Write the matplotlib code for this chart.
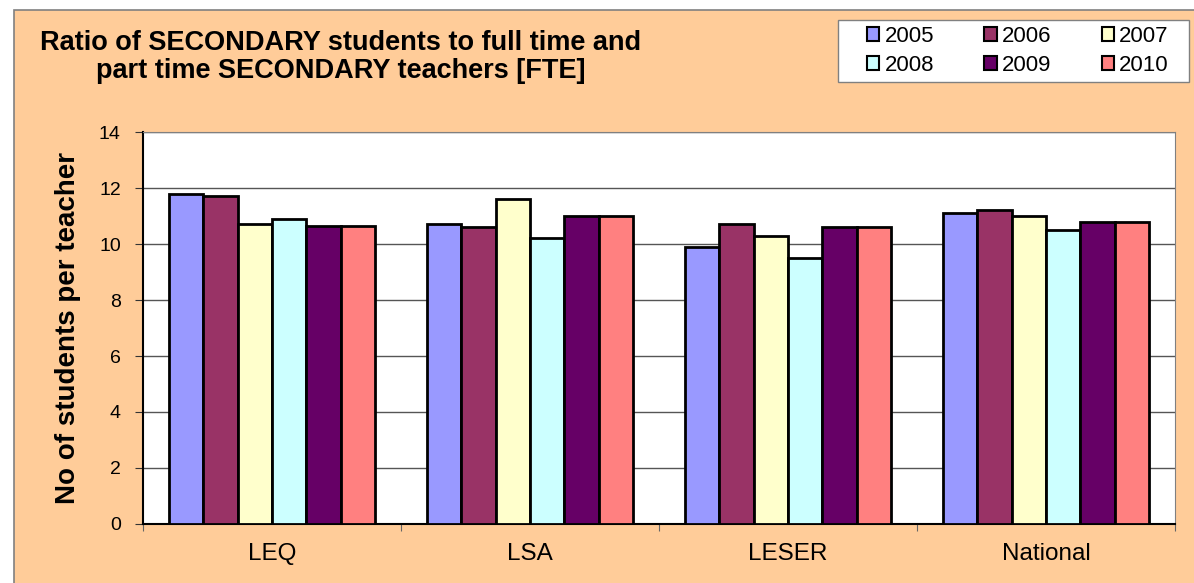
import matplotlib.pyplot as plt
import numpy as np
from matplotlib.patches import Rectangle

# Data
categories = ['LEQ', 'LSA', 'LESER', 'National']
years = ['2005', '2006', '2007', '2008', '2009', '2010']
values_2005 = [11.8, 10.7, 9.9, 11.1]
values_2006 = [11.7, 10.6, 10.7, 11.2]
values_2007 = [10.7, 11.6, 10.3, 11.0]
values_2008 = [10.9, 10.2, 9.5, 10.5]
values_2009 = [10.65, 11.0, 10.62, 10.78]
values_2010 = [10.65, 11.0, 10.62, 10.78]
series = [values_2005, values_2006, values_2007, values_2008, values_2009, values_2010]
colors = ['#9999FF', '#993366', '#FFFFCC', '#CCFFFF', '#660066', '#FF8080']

plt.rcParams['font.family'] = ['Liberation Sans', 'DejaVu Sans']

W, H = 1194, 583
fig = plt.figure(figsize=(W / 100, H / 100), dpi=100)
fig.patch.set_facecolor('white')

# Peach chart area with grey border
bg = Rectangle((14 / W, -0.1), 1.2, 1.1 - 10 / H, transform=fig.transFigure,
               facecolor='#FFCC99', edgecolor='#808080', linewidth=1.2, zorder=-10)
fig.patches.append(bg)

# Legend box
legbox = Rectangle((838 / W, 1 - 82 / H), (1189 - 838) / W, 62 / H, transform=fig.transFigure,
                   facecolor='white', edgecolor='#808080', linewidth=1, zorder=-5)
fig.patches.append(legbox)

# Plot area
left, right, top, bottom = 143, 1175, 132, 524
ax = fig.add_axes([left / W, 1 - bottom / H, (right - left) / W, (bottom - top) / H])
ax.set_zorder(1)
ax.set_facecolor('white')

n = len(series)
group_w = 0.80
bar_w = group_w / n
x = np.arange(len(categories))
bars = []
for i, (vals, col, yr) in enumerate(zip(series, colors, years)):
    offs = x - group_w / 2 + bar_w * (i + 0.5)
    b = ax.bar(offs, vals, width=bar_w, color=col, edgecolor='black', linewidth=2,
               label=yr, zorder=3)
    bars.append(b)

ax.set_xlim(-0.5, len(categories) - 0.5)
ax.set_ylim(0, 14)
ax.set_yticks(np.arange(0, 15, 2))
ax.yaxis.grid(True, color='#555555', linewidth=1, zorder=0)
ax.set_axisbelow(True)

# Category labels at centres, tick marks between categories
ax.set_xticks(np.arange(-0.5, len(categories), 1))
ax.set_xticklabels([])
ax.tick_params(axis='x', length=5, color='#666666')
ax.set_xticks(x, minor=True)
ax.set_xticklabels(categories, minor=True, fontsize=17.5)
ax.tick_params(axis='x', which='minor', length=0, pad=14)
ax.tick_params(axis='y', labelsize=14, length=6, pad=10, color='#333333')

ax.spines['top'].set_color('#808080')
ax.spines['right'].set_color('#808080')
ax.spines['left'].set_linewidth(1.5)
ax.spines['bottom'].set_linewidth(1.5)

ax.set_ylabel('No of students per teacher', fontsize=20, fontweight='bold', labelpad=13)

fig.text(341 / W, 1 - 57 / H, 'Ratio of SECONDARY students to full time and\npart time SECONDARY teachers [FTE]',
         ha='center', va='center', fontsize=19.5, fontweight='bold', linespacing=1.15)

# Legend in row order (ncol=3 fills column-wise)
order = [0, 3, 1, 4, 2, 5]
leg = fig.legend([bars[i] for i in order], [years[i] for i in order],
                 loc='center left', bbox_to_anchor=(867 / W, 1 - 51 / H), ncol=3,
                 fontsize=16, frameon=False,
                 handlelength=0.55, handleheight=0.55, handletextpad=0.25,
                 columnspacing=2.25, labelspacing=0.36, borderpad=0,
                 borderaxespad=0)
leg.set_zorder(5)
for h in leg.legend_handles:
    h.set_linewidth(1.5)

fig.savefig('out.png', dpi=100, facecolor=fig.get_facecolor())
